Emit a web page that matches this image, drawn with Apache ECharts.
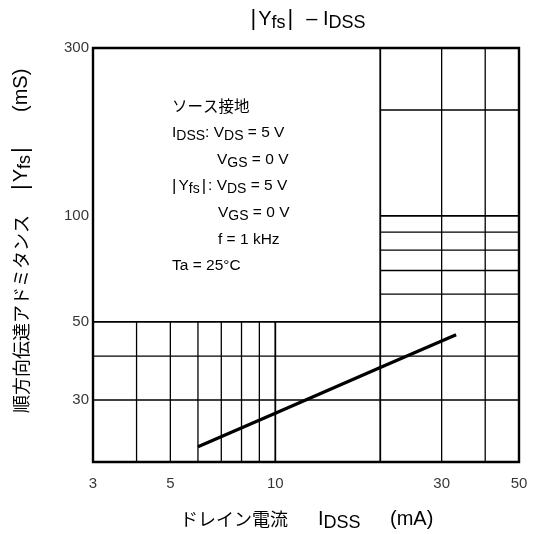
<!DOCTYPE html>
<html><head><meta charset="utf-8">
<script src="https://cdn.jsdelivr.net/npm/echarts@6/dist/echarts.min.js"></script>
<style>html,body{margin:0;padding:0;background:#fff}#c{width:533px;height:534px}</style>
</head><body><div id="c"></div>
<script>
// ---- data ----
const xTicks = [3, 5, 10, 30, 50];
const yTicks = [30, 50, 100, 300];
const curveX = [6, 10, 20, 33];
const curveY = [22.1, 27.5, 37.1, 46];
// grid layout (values in data units)
const lowerVMinor = [4, 5, 6, 7, 8, 9];
const lowerVMajor = [10];
const fullVMinor = [30, 40];
const fullVMajor = [20];
const fullHMinor = [30, 40];
const fullHMajor = [50];
const rightHMinor = [60, 70, 80, 90, 200];
const rightHMajor = [100];
const X_MIN = 3, X_MAX = 50, Y_MIN = 20, Y_MAX = 300, X_SPLIT = 20, Y_SPLIT = 50;

const FONT = "'Liberation Sans', Arial, 'Noto Sans CJK JP', sans-serif";
const JFONT = "'Noto Sans CJK JP', 'Liberation Sans', sans-serif";
const chart = echarts.init(document.getElementById('c'), null, {renderer: 'canvas'});

function seg(p1, p2, w) {
  return {type: 'line', data: [p1, p2], symbol: 'none', silent: true, z: 1,
    lineStyle: {color: '#000', width: w}, animation: false, clip: false};
}
const series = [];
lowerVMinor.forEach(v => series.push(seg([v, Y_MIN], [v, Y_SPLIT], 1.3)));
lowerVMajor.forEach(v => series.push(seg([v, Y_MIN], [v, Y_SPLIT], 1.8)));
fullVMinor.forEach(v => series.push(seg([v, Y_MIN], [v, Y_MAX], 1.3)));
fullVMajor.forEach(v => series.push(seg([v, Y_MIN], [v, Y_MAX], 1.8)));
fullHMinor.forEach(v => series.push(seg([X_MIN, v], [X_MAX, v], 1.3)));
fullHMajor.forEach(v => series.push(seg([X_MIN, v], [X_MAX, v], 1.8)));
rightHMinor.forEach(v => series.push(seg([X_SPLIT, v], [X_MAX, v], 1.3)));
rightHMajor.forEach(v => series.push(seg([X_SPLIT, v], [X_MAX, v], 1.8)));

series.push({type: 'line', data: curveX.map((x, i) => [x, curveY[i]]), symbol: 'none', z: 5,
  lineStyle: {color: '#000', width: 3.3}, animation: false});

series.push({type: 'scatter', data: xTicks.map(v => [v, Y_MIN]), symbolSize: 0, silent: true, clip: false,
  label: {show: true, position: 'bottom', distance: 14, formatter: p => String(p.value[0]),
    fontSize: 15, color: '#000', fontFamily: FONT}, animation: false});
series.push({type: 'scatter', data: yTicks.map(v => [X_MIN, v]), symbolSize: 0, silent: true, clip: false,
  label: {show: true, position: 'left', distance: 4, formatter: p => String(p.value[1]),
    fontSize: 15, color: '#000', fontFamily: FONT}, animation: false});

function mkRich(n, s, p, lh, drop) {
  return {
    n: {fontSize: n, lineHeight: lh, fontFamily: FONT, color: '#000'},
    j: {fontSize: n, lineHeight: lh, fontFamily: JFONT, color: '#000'},
    s: {fontSize: s, lineHeight: lh - 2 * drop, verticalAlign: 'bottom', fontFamily: FONT, color: '#000'},
    p: {fontSize: p, lineHeight: lh, fontFamily: FONT, color: '#888', padding: [0, 2, 0, 2]}
  };
}
const rich = mkRich(15.5, 14, 17, 20, 3.5);
const richT = mkRich(20, 18, 22, 26, 4);
const richJ = mkRich(18, 18, 18, 26, 0);

function txt(text, x, y, r, align, rot) {
  const g = {type: 'text', x: x, y: y, silent: true, z: 10,
    style: {text: text, rich: r, align: align || 'left', verticalAlign: 'middle', fill: '#000', fontFamily: FONT, fontSize: 15}};
  if (rot) g.rotation = rot;
  return g;
}
const R = Math.PI / 2;
const graphic = [
  txt('{j|ソース接地}', 172, 106, mkRich(15.5, 14, 17, 20, 3.5)),
  txt('{n|I}{s|DSS}{n|: V}{s|DS}{n| = 5 V}', 172, 133, rich),
  txt('{n|V}{s|GS}{n| = 0 V}', 217, 160, rich),
  txt('{p||}{n|Y}{s|fs}{p||}{n|: V}{s|DS}{n| = 5 V}', 170, 186, rich),
  txt('{n|V}{s|GS}{n| = 0 V}', 218, 213, rich),
  txt('{n|f = 1 kHz}', 218, 240, rich),
  txt('{n|Ta = 25°C}', 172, 266, rich),
  // title
  txt('{p||}{n|Y}{s|fs}{p||}{n|  – I}{s|DSS}', 307, 19, richT, 'center'),
  // x axis name
  txt('{j|ドレイン電流}', 180, 519, richJ),
  txt('{n|I}{s|DSS}', 318, 519, richT),
  txt('{n|(mA)}', 390, 519, richT),
  // y axis name (rotated)
  txt('{j|順方向伝達アドミタンス}', 413, 0, richJ, 'left'),
  txt('{p||}{n|Y}{s|fs}{p||}', 192, 0, richT, 'left'),
  txt('{n|(mS)}', 112, 0, richT, 'left')
];
// place rotated ones
[11, 12, 13].forEach(i => {
  const g = graphic[i];
  g.y = g.x; g.x = 21; g.rotation = R;
});

chart.setOption({
  animation: false,
  backgroundColor: '#fff',
  grid: {left: 93, top: 48, width: 426, height: 414, show: true, borderColor: '#000', borderWidth: 2.4,
    backgroundColor: 'transparent', z: 6},
  xAxis: {type: 'log', logBase: 10, min: X_MIN, max: X_MAX, axisLine: {show: false}, axisTick: {show: false},
    splitLine: {show: false}, minorSplitLine: {show: false}, axisLabel: {show: false}},
  yAxis: {type: 'log', logBase: 10, min: Y_MIN, max: Y_MAX, axisLine: {show: false}, axisTick: {show: false},
    splitLine: {show: false}, minorSplitLine: {show: false}, axisLabel: {show: false}},
  series: series,
  graphic: graphic
});
</script></body></html>
